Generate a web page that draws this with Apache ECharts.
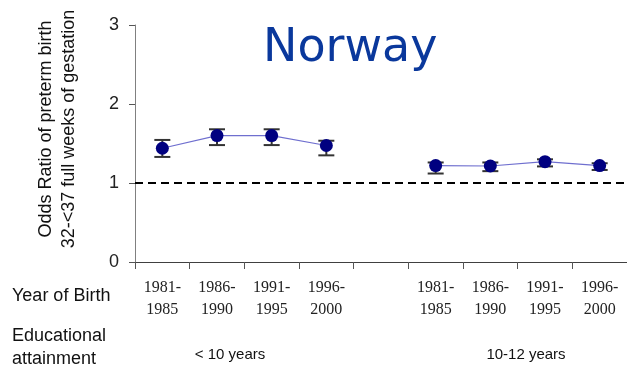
<!DOCTYPE html>
<html><head><meta charset="utf-8">
<script src="https://cdn.jsdelivr.net/npm/echarts@6/dist/echarts.min.js"></script>
<style>html,body{margin:0;padding:0;background:#fff}#c{width:627px;height:369px}</style>
</head><body><div id="c"></div>
<script>
const categories = ['1981-\n1985','1986-\n1990','1991-\n1995','1996-\n2000','','1981-\n1985','1986-\n1990','1991-\n1995','1996-\n2000'];
const oddsRatio = [1.44, 1.60, 1.60, 1.475, null, 1.22, 1.215, 1.27, 1.22];
const lowerCI  = [1.33, 1.48, 1.48, 1.35, null, 1.12, 1.15, 1.21, 1.165];
const upperCI  = [1.545, 1.68, 1.68, 1.535, null, 1.26, 1.26, 1.30, 1.25];
const yTicks = [0, 1, 2, 3];
const groupLabels = ['< 10 years', '10-12 years'];

const chart = echarts.init(document.getElementById('c'), null, {renderer: 'canvas'});
const sans = 'Liberation Sans, Arial, sans-serif';
const errData = [];
for (let i = 0; i < categories.length; i++) {
  if (oddsRatio[i] != null) errData.push([i, lowerCI[i], upperCI[i]]);
}
chart.setOption({
  backgroundColor: '#fff',
  animation: false,
  grid: {left: 135, right: 0, top: 25, bottom: 107},
  xAxis: {
    type: 'category', data: categories, boundaryGap: true,
    axisLine: {lineStyle: {color: '#404040', width: 1}},
    axisTick: {show: true, interval: 0, length: 7, lineStyle: {color: '#555'}},
    axisLabel: {interval: 0, margin: 15, fontFamily: 'Liberation Serif, Times New Roman, serif', fontSize: 16, lineHeight: 22, color: '#222'}
  },
  yAxis: {
    type: 'value', min: yTicks[0], max: yTicks[yTicks.length-1], interval: 1,
    splitLine: {show: false},
    axisLine: {show: true, lineStyle: {color: '#808080'}},
    axisTick: {show: true, length: 6, lineStyle: {color: '#555'}},
    axisLabel: {fontFamily: sans, fontSize: 18, color: '#222', margin: 16}
  },
  series: [
    {
      type: 'line', data: oddsRatio, connectNulls: false,
      symbol: 'circle', symbolSize: 13,
      itemStyle: {color: '#000080'},
      lineStyle: {color: '#6f6fcf', width: 1.2},
      z: 5,
      markLine: {
        silent: true, symbol: 'none', label: {show: false},
        lineStyle: {color: '#000', type: [8, 5], width: 2},
        data: [{yAxis: 1}]
      }
    },
    {
      type: 'custom', data: errData, z: 4,
      renderItem: function (params, api) {
        const x = api.coord([api.value(0), 0])[0];
        const lo = api.coord([api.value(0), api.value(1)])[1];
        const hi = api.coord([api.value(0), api.value(2)])[1];
        const w = 8;
        const st = {stroke: '#333', lineWidth: 2};
        return {type: 'group', children: [
          {type: 'line', shape: {x1: x, y1: lo, x2: x, y2: hi}, style: st},
          {type: 'line', shape: {x1: x - w, y1: lo, x2: x + w, y2: lo}, style: st},
          {type: 'line', shape: {x1: x - w, y1: hi, x2: x + w, y2: hi}, style: st}
        ]};
      }
    }
  ],
  graphic: [
    {type: 'text', x: 263, y: 49, style: {text: 'Norway', fontFamily: 'DejaVu Sans, Verdana, sans-serif', fontSize: 46, fill: '#0a389c', textVerticalAlign: 'middle'}},
    {type: 'text', x: 58, y: 129, rotation: Math.PI / 2, style: {text: 'Odds Ratio of preterm birth\n32-<37 full weeks of gestation', fontFamily: sans, fontSize: 18, lineHeight: 23, fill: '#111', textAlign: 'center', textVerticalAlign: 'middle'}},
    {type: 'text', x: 12, y: 296, style: {text: 'Year of Birth', fontFamily: sans, fontSize: 18, fill: '#111', textVerticalAlign: 'middle'}},
    {type: 'text', x: 12, y: 348, style: {text: 'Educational\nattainment', fontFamily: sans, fontSize: 18, lineHeight: 23, fill: '#111', textVerticalAlign: 'middle'}},
    {type: 'text', x: 230, y: 355, style: {text: groupLabels[0], fontFamily: sans, fontSize: 15, fill: '#111', textAlign: 'center', textVerticalAlign: 'middle'}},
    {type: 'text', x: 526, y: 355, style: {text: groupLabels[1], fontFamily: sans, fontSize: 15, fill: '#111', textAlign: 'center', textVerticalAlign: 'middle'}}
  ]
});
</script></body></html>
